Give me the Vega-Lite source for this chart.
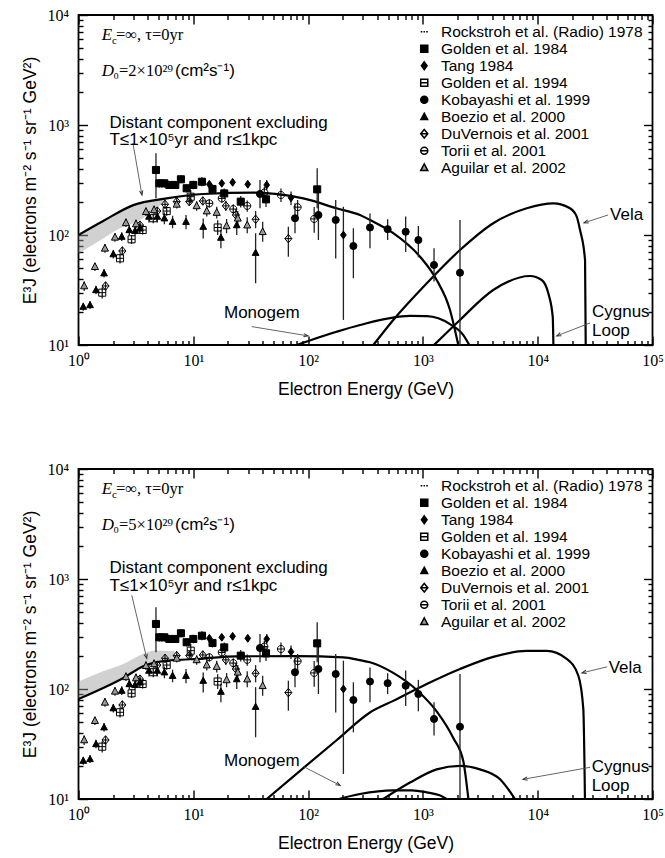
{
"$schema": "https://vega.github.io/schema/vega-lite/v6.json",
"padding": {"left": 20.5, "top": 6, "right": 4, "bottom": 4},
"spacing": 61,
"config": {
 "view": {"stroke": "black", "strokeWidth": 1.8},
 "axis": {"domain": false, "grid": false, "labelFont": "Liberation Serif", "labelFontSize": 16, "labelColor": "black", "labelOverlap": false, "labelFlush": false, "titleFont": "Liberation Sans", "titleFontSize": 17.5, "titleFontWeight": "normal", "titleColor": "black"}
},
"resolve": {"scale": {"shape": "independent", "fill": "independent"}},
"datasets": {
 "obs": [
  {"s":"Golden et al. 1984","E":4.73,"F":390,"lo":216,"hi":553},
  {"s":"Golden et al. 1984","E":5.06,"F":295,"lo":270,"hi":322},
  {"s":"Golden et al. 1984","E":5.6,"F":295,"lo":270,"hi":322},
  {"s":"Golden et al. 1984","E":6.18,"F":285,"lo":262,"hi":310},
  {"s":"Golden et al. 1984","E":6.97,"F":285,"lo":262,"hi":310},
  {"s":"Golden et al. 1984","E":7.8,"F":321,"lo":295,"hi":350},
  {"s":"Golden et al. 1984","E":8.75,"F":266,"lo":244,"hi":290},
  {"s":"Golden et al. 1984","E":10.0,"F":285,"lo":260,"hi":312},
  {"s":"Golden et al. 1984","E":11.9,"F":305,"lo":278,"hi":335},
  {"s":"Golden et al. 1984","E":14.7,"F":262,"lo":238,"hi":288},
  {"s":"Golden et al. 1984","E":18.6,"F":239,"lo":215,"hi":265},
  {"s":"Golden et al. 1984","E":25.9,"F":201,"lo":178,"hi":226},
  {"s":"Golden et al. 1984","E":43.0,"F":211,"lo":180,"hi":245},
  {"s":"Golden et al. 1984","E":120,"F":260,"lo":175,"hi":404},
  {"s":"Tang 1984","E":13.8,"F":289,"lo":270,"hi":310},
  {"s":"Tang 1984","E":17.7,"F":295,"lo":275,"hi":316},
  {"s":"Tang 1984","E":22.0,"F":301,"lo":280,"hi":324},
  {"s":"Tang 1984","E":29.8,"F":289,"lo":268,"hi":312},
  {"s":"Tang 1984","E":43.6,"F":285,"lo":256,"hi":316},
  {"s":"Tang 1984","E":71,"F":218,"lo":187,"hi":248},
  {"s":"Tang 1984","E":203,"F":100,"lo":16.9,"hi":181},
  {"s":"Golden et al. 1994","E":1.61,"F":29.9,"lo":26.5,"hi":33.5},
  {"s":"Golden et al. 1994","E":2.30,"F":61.4,"lo":55,"hi":68},
  {"s":"Golden et al. 1994","E":2.9,"F":91.4,"lo":83,"hi":100},
  {"s":"Golden et al. 1994","E":3.62,"F":111,"lo":101,"hi":122},
  {"s":"Golden et al. 1994","E":4.48,"F":142,"lo":128,"hi":156},
  {"s":"Golden et al. 1994","E":5.86,"F":165,"lo":150,"hi":181},
  {"s":"Golden et al. 1994","E":9.5,"F":223,"lo":194,"hi":256},
  {"s":"Golden et al. 1994","E":16.3,"F":117,"lo":100,"hi":136},
  {"s":"Kobayashi et al. 1999","E":38.1,"F":236,"lo":175,"hi":316},
  {"s":"Kobayashi et al. 1999","E":76.9,"F":142,"lo":104,"hi":194},
  {"s":"Kobayashi et al. 1999","E":123,"F":152,"lo":90,"hi":275},
  {"s":"Kobayashi et al. 1999","E":174,"F":137,"lo":61,"hi":208},
  {"s":"Kobayashi et al. 1999","E":248,"F":79.4,"lo":40.4,"hi":115},
  {"s":"Kobayashi et al. 1999","E":346,"F":117,"lo":75.7,"hi":157},
  {"s":"Kobayashi et al. 1999","E":493,"F":113,"lo":90,"hi":139},
  {"s":"Kobayashi et al. 1999","E":708,"F":107,"lo":70,"hi":147},
  {"s":"Kobayashi et al. 1999","E":913,"F":90,"lo":62.7,"hi":121},
  {"s":"Kobayashi et al. 1999","E":1250,"F":53.4,"lo":37.7,"hi":75.7},
  {"s":"Kobayashi et al. 1999","E":2104,"F":45.4,"lo":8,"hi":137},
  {"s":"Boezio et al. 2000","E":1.10,"F":22.3,"lo":20.5,"hi":24.2},
  {"s":"Boezio et al. 2000","E":1.26,"F":23.1,"lo":21.2,"hi":25},
  {"s":"Boezio et al. 2000","E":1.42,"F":31.6,"lo":29,"hi":34.5},
  {"s":"Boezio et al. 2000","E":1.67,"F":44.9,"lo":41,"hi":49},
  {"s":"Boezio et al. 2000","E":2.01,"F":67,"lo":61,"hi":73},
  {"s":"Boezio et al. 2000","E":2.38,"F":96.6,"lo":88,"hi":106},
  {"s":"Boezio et al. 2000","E":2.77,"F":111,"lo":100,"hi":122},
  {"s":"Boezio et al. 2000","E":3.11,"F":109,"lo":98,"hi":120},
  {"s":"Boezio et al. 2000","E":3.43,"F":115,"lo":103,"hi":128},
  {"s":"Boezio et al. 2000","E":4.11,"F":147,"lo":130,"hi":165},
  {"s":"Boezio et al. 2000","E":4.86,"F":147,"lo":130,"hi":165},
  {"s":"Boezio et al. 2000","E":5.6,"F":142,"lo":125,"hi":160},
  {"s":"Boezio et al. 2000","E":6.6,"F":132,"lo":115,"hi":150},
  {"s":"Boezio et al. 2000","E":8.64,"F":132,"lo":113,"hi":152},
  {"s":"Boezio et al. 2000","E":12.2,"F":119,"lo":93,"hi":141},
  {"s":"Boezio et al. 2000","E":17.4,"F":94.6,"lo":75.7,"hi":111},
  {"s":"Boezio et al. 2000","E":23.9,"F":123,"lo":100,"hi":147},
  {"s":"Boezio et al. 2000","E":34.9,"F":69,"lo":36.4,"hi":104},
  {"s":"DuVernois et al. 2001","E":1.72,"F":34.4,"lo":31.5,"hi":37.5},
  {"s":"DuVernois et al. 2001","E":2.41,"F":71.6,"lo":66,"hi":78},
  {"s":"DuVernois et al. 2001","E":3.43,"F":123,"lo":113,"hi":134},
  {"s":"DuVernois et al. 2001","E":4.86,"F":165,"lo":150,"hi":180},
  {"s":"DuVernois et al. 2001","E":5.67,"F":190,"lo":174,"hi":207},
  {"s":"DuVernois et al. 2001","E":7.17,"F":201,"lo":184,"hi":219},
  {"s":"DuVernois et al. 2001","E":9.23,"F":201,"lo":184,"hi":219},
  {"s":"DuVernois et al. 2001","E":12.1,"F":204,"lo":186,"hi":223},
  {"s":"DuVernois et al. 2001","E":19.2,"F":184,"lo":165,"hi":205},
  {"s":"DuVernois et al. 2001","E":23.5,"F":152,"lo":134,"hi":172},
  {"s":"DuVernois et al. 2001","E":34.9,"F":139,"lo":115,"hi":165},
  {"s":"DuVernois et al. 2001","E":67.3,"F":92.7,"lo":63.5,"hi":119},
  {"s":"Torii et al. 2001","E":13.8,"F":194,"lo":178,"hi":211},
  {"s":"Torii et al. 2001","E":17.7,"F":215,"lo":196,"hi":236},
  {"s":"Torii et al. 2001","E":22.3,"F":172,"lo":155,"hi":190},
  {"s":"Torii et al. 2001","E":29.5,"F":184,"lo":163,"hi":206},
  {"s":"Torii et al. 2001","E":41.6,"F":243,"lo":214,"hi":275},
  {"s":"Torii et al. 2001","E":58,"F":231,"lo":200,"hi":265},
  {"s":"Torii et al. 2001","E":81,"F":179,"lo":147,"hi":208},
  {"s":"Torii et al. 2001","E":113,"F":140,"lo":105,"hi":180},
  {"s":"Aguilar et al. 2002","E":1.12,"F":34.4,"lo":31,"hi":38},
  {"s":"Aguilar et al. 2002","E":1.39,"F":51.5,"lo":47,"hi":56},
  {"s":"Aguilar et al. 2002","E":1.70,"F":75.7,"lo":69,"hi":83},
  {"s":"Aguilar et al. 2002","E":2.08,"F":95.3,"lo":87,"hi":104},
  {"s":"Aguilar et al. 2002","E":2.59,"F":129,"lo":118,"hi":141},
  {"s":"Aguilar et al. 2002","E":3.17,"F":126,"lo":115,"hi":138},
  {"s":"Aguilar et al. 2002","E":3.87,"F":163,"lo":149,"hi":178},
  {"s":"Aguilar et al. 2002","E":4.55,"F":169,"lo":154,"hi":185},
  {"s":"Aguilar et al. 2002","E":7.17,"F":190,"lo":174,"hi":207},
  {"s":"Aguilar et al. 2002","E":10.7,"F":184,"lo":166,"hi":203},
  {"s":"Aguilar et al. 2002","E":13.1,"F":165,"lo":147,"hi":185},
  {"s":"Aguilar et al. 2002","E":16.0,"F":160,"lo":141,"hi":181},
  {"s":"Aguilar et al. 2002","E":19.5,"F":121,"lo":104,"hi":140},
  {"s":"Aguilar et al. 2002","E":24.4,"F":142,"lo":122,"hi":165},
  {"s":"Aguilar et al. 2002","E":29.5,"F":123,"lo":104,"hi":145},
  {"s":"Aguilar et al. 2002","E":40.2,"F":107,"lo":87,"hi":132}
 ],
 "curves": [
  {"p":"top","c":"distant","E":1,"F":100},{"p":"top","c":"distant","E":1.64,"F":134},{"p":"top","c":"distant","E":3.0,"F":187},{"p":"top","c":"distant","E":5.86,"F":215},{"p":"top","c":"distant","E":12.2,"F":236},{"p":"top","c":"distant","E":33.2,"F":243},{"p":"top","c":"distant","E":90.7,"F":215},{"p":"top","c":"distant","E":177,"F":175},{"p":"top","c":"distant","E":283,"F":152},{"p":"top","c":"distant","E":346,"F":137},{"p":"top","c":"distant","E":552,"F":104},{"p":"top","c":"distant","E":944,"F":63.5},{"p":"top","c":"distant","E":1318,"F":39},{"p":"top","c":"distant","E":1722,"F":20.8},{"p":"top","c":"distant","E":2033,"F":10},
  {"p":"top","c":"vela","E":370,"F":10},{"p":"top","c":"vela","E":552,"F":16.9},{"p":"top","c":"vela","E":1080,"F":36.4},{"p":"top","c":"vela","E":2104,"F":73},{"p":"top","c":"vela","E":4100,"F":128},{"p":"top","c":"vela","E":8020,"F":175},{"p":"top","c":"vela","E":13680,"F":194},{"p":"top","c":"vela","E":19100,"F":175},{"p":"top","c":"vela","E":21860,"F":147},{"p":"top","c":"vela","E":23380,"F":111},{"p":"top","c":"vela","E":25850,"F":59},{"p":"top","c":"vela","E":26200,"F":10},
  {"p":"top","c":"cygnus","E":1250,"F":10},{"p":"top","c":"cygnus","E":2104,"F":16.9},{"p":"top","c":"cygnus","E":4100,"F":31.6},{"p":"top","c":"cygnus","E":8570,"F":42.4},{"p":"top","c":"cygnus","E":10840,"F":39},{"p":"top","c":"cygnus","E":12370,"F":29.5},{"p":"top","c":"cygnus","E":13520,"F":18},{"p":"top","c":"cygnus","E":13700,"F":10},
  {"p":"top","c":"monogem","E":79.5,"F":10},{"p":"top","c":"monogem","E":177,"F":13.2},{"p":"top","c":"monogem","E":283,"F":15.2},{"p":"top","c":"monogem","E":772,"F":18.4},{"p":"top","c":"monogem","E":1080,"F":18.3},{"p":"top","c":"monogem","E":1722,"F":15.5},{"p":"top","c":"monogem","E":2250,"F":12.3},{"p":"top","c":"monogem","E":2537,"F":10},
  {"p":"bottom","c":"distant","E":1,"F":81},{"p":"bottom","c":"distant","E":1.64,"F":102},{"p":"bottom","c":"distant","E":2.46,"F":126},{"p":"bottom","c":"distant","E":3.67,"F":161},{"p":"bottom","c":"distant","E":5.48,"F":179},{"p":"bottom","c":"distant","E":12.2,"F":189},{"p":"bottom","c":"distant","E":23.9,"F":198},{"p":"bottom","c":"distant","E":80,"F":199},{"p":"bottom","c":"distant","E":203,"F":194},{"p":"bottom","c":"distant","E":283,"F":183},{"p":"bottom","c":"distant","E":346,"F":175},{"p":"bottom","c":"distant","E":552,"F":140},{"p":"bottom","c":"distant","E":913,"F":95},{"p":"bottom","c":"distant","E":1318,"F":62.7},{"p":"bottom","c":"distant","E":1840,"F":35.9},{"p":"bottom","c":"distant","E":2250,"F":22},{"p":"bottom","c":"distant","E":2490,"F":10},
  {"p":"bottom","c":"vela","E":43.6,"F":10},{"p":"bottom","c":"vela","E":90.8,"F":19.1},{"p":"bottom","c":"vela","E":177,"F":34.2},{"p":"bottom","c":"vela","E":346,"F":61.2},{"p":"bottom","c":"vela","E":552,"F":78},{"p":"bottom","c":"vela","E":1080,"F":111},{"p":"bottom","c":"vela","E":2104,"F":152},{"p":"bottom","c":"vela","E":4100,"F":196},{"p":"bottom","c":"vela","E":8020,"F":222},{"p":"bottom","c":"vela","E":11970,"F":222},{"p":"bottom","c":"vela","E":17900,"F":188},{"p":"bottom","c":"vela","E":22600,"F":132},{"p":"bottom","c":"vela","E":24970,"F":65.6},{"p":"bottom","c":"vela","E":25800,"F":10},
  {"p":"bottom","c":"cygnus","E":452,"F":10},{"p":"bottom","c":"cygnus","E":772,"F":14.1},{"p":"bottom","c":"cygnus","E":1318,"F":18.6},{"p":"bottom","c":"cygnus","E":2104,"F":20},{"p":"bottom","c":"cygnus","E":3140,"F":18.6},{"p":"bottom","c":"cygnus","E":4700,"F":15.1},{"p":"bottom","c":"cygnus","E":6340,"F":10},
  {"p":"bottom","c":"monogem","E":186,"F":10},{"p":"bottom","c":"monogem","E":283,"F":11.1},{"p":"bottom","c":"monogem","E":552,"F":12.0},{"p":"bottom","c":"monogem","E":800,"F":12.0},{"p":"bottom","c":"monogem","E":1080,"F":11.5},{"p":"bottom","c":"monogem","E":1400,"F":10.8},{"p":"bottom","c":"monogem","E":1610,"F":10}
 ],
 "shade": [
  {"p":"top","E":1,"lo":68,"hi":100},{"p":"top","E":1.64,"lo":93,"hi":134},{"p":"top","E":2.3,"lo":115,"hi":160},{"p":"top","E":3.21,"lo":132,"hi":192},{"p":"top","E":4.8,"lo":175,"hi":208},{"p":"top","E":5.86,"lo":212,"hi":215},
  {"p":"bottom","E":1,"lo":81,"hi":117},{"p":"bottom","E":1.64,"lo":102,"hi":145},{"p":"bottom","E":2.46,"lo":126,"hi":169},{"p":"bottom","E":3.67,"lo":161,"hi":209},{"p":"bottom","E":4.6,"lo":172,"hi":224},{"p":"bottom","E":6.9,"lo":183,"hi":220}
 ],
 "arrows": [
  {"p":"top","E":2.98,"F":686,"E2":3.57,"F2":231,"ang":170},
  {"p":"top","E":32.3,"F":14.7,"E2":99.8,"F2":12.1,"ang":99},
  {"p":"top","E":40950,"F":152,"E2":25300,"F2":129,"ang":252},
  {"p":"top","E":28550,"F":15.85,"E2":14650,"F2":12.1,"ang":248},
  {"p":"bottom","E":2.91,"F":711,"E2":3.93,"F2":190,"ang":166},
  {"p":"bottom","E":90.3,"F":19.8,"E2":190,"F2":13.3,"ang":117},
  {"p":"bottom","E":40200,"F":159,"E2":24300,"F2":140,"ang":256},
  {"p":"bottom","E":28550,"F":19.4,"E2":7450,"F2":15.1,"ang":260}
 ],
 "notes": [
  {"p":"top","E":1.86,"F":948,"txt":"Distant component excluding"},
  {"p":"top","E":1.86,"F":658,"txt":"T≤1×10⁵yr and r≤1kpc"},
  {"p":"top","E":18.5,"F":17.5,"txt":"Monogem"},
  {"p":"top","E":42700,"F":137,"txt":"Vela"},
  {"p":"top","E":29700,"F":17.8,"txt":"Cygnus"},
  {"p":"top","E":29700,"F":12.0,"txt":"Loop"},
  {"p":"top","E":6.93,"F":2790,"txt":"(cm²s⁻¹)"},
  {"p":"bottom","E":1.86,"F":1135,"txt":"Distant component excluding"},
  {"p":"bottom","E":1.86,"F":785,"txt":"T≤1×10⁵yr and r≤1kpc"},
  {"p":"bottom","E":18.5,"F":19.8,"txt":"Monogem"},
  {"p":"bottom","E":41500,"F":140,"txt":"Vela"},
  {"p":"bottom","E":29500,"F":17.6,"txt":"Cygnus"},
  {"p":"bottom","E":29500,"F":11.9,"txt":"Loop"},
  {"p":"bottom","E":6.93,"F":2790,"txt":"(cm²s⁻¹)"}
 ],
 "hdrI": [
  {"p":"top","E":1.592,"F":5929,"txt":"E"},{"p":"top","E":1.592,"F":2790,"txt":"D"},
  {"p":"bottom","E":1.592,"F":5929,"txt":"E"},{"p":"bottom","E":1.592,"F":2790,"txt":"D"}
 ],
 "hdrU": [
  {"p":"top","E":2.12,"F":5929,"txt":"=∞, τ=0yr"},{"p":"top","E":2.01,"F":2790,"txt":"₀=2×10²⁹"},
  {"p":"bottom","E":2.12,"F":5929,"txt":"=∞, τ=0yr"},{"p":"bottom","E":2.01,"F":2790,"txt":"₀=5×10²⁹"}
 ],
 "hdrSub": [
  {"p":"top","E":1.96,"F":5929,"txt":"c"},{"p":"bottom","E":1.96,"F":5929,"txt":"c"}
 ]
},
"vconcat": [
 {
  "width": 574, "height": 330,
  "resolve": {"axis": {"x": "independent", "y": "independent"}},
  "layer": [
   {
    "layer": [
     {"data": {"name": "shade"}, "transform": [{"filter": "datum.p == 'top'"}],
      "mark": {"type": "area", "fill": "#9a9a9a", "opacity": 0.45, "interpolate": "monotone"},
      "encoding": {
       "x": {"field": "E", "type": "quantitative", "scale": {"type": "log", "domain": [1, 100000], "nice": false},
        "axis": {"orient": "bottom", "title": "Electron Energy (GeV)", "values": [1,2,3,4,5,6,7,8,9,10,20,30,40,50,60,70,80,90,100,200,300,400,500,600,700,800,900,1000,2000,3000,4000,5000,6000,7000,8000,9000,10000,20000,30000,40000,50000,60000,70000,80000,90000,100000],
         "labelExpr": "abs(log(datum.value)/LN10 - round(log(datum.value)/LN10)) < 0.01 ? '10' + ['⁰','¹','²','³','⁴','⁵'][round(log(datum.value)/LN10)] : ''",
         "tickColor": "black", "tickWidth": 1.4,
         "tickSize": {"condition": {"test": "abs(log(datum.value)/LN10 - round(log(datum.value)/LN10)) < 0.01", "value": -9}, "value": -4.5},
         "labelPadding": 16, "titlePadding": 8}},
       "y": {"field": "lo", "type": "quantitative", "scale": {"type": "log", "domain": [10, 10000], "nice": false},
        "axis": {"orient": "left", "title": "E³J (electrons m⁻² s⁻¹ sr⁻¹ GeV²)", "values": [10,20,30,40,50,60,70,80,90,100,200,300,400,500,600,700,800,900,1000,2000,3000,4000,5000,6000,7000,8000,9000,10000],
         "labelExpr": "abs(log(datum.value)/LN10 - round(log(datum.value)/LN10)) < 0.01 ? '10' + ['⁰','¹','²','³','⁴','⁵'][round(log(datum.value)/LN10)] : ''",
         "tickColor": "black", "tickWidth": 1.4,
         "tickSize": {"condition": {"test": "abs(log(datum.value)/LN10 - round(log(datum.value)/LN10)) < 0.01", "value": -9}, "value": -4.5},
         "labelPadding": 19, "titlePadding": 7.5}},
       "y2": {"field": "hi"}
      }},
     {"data": {"name": "curves"}, "transform": [{"filter": "datum.p == 'top'"}],
      "mark": {"type": "line", "stroke": "black", "strokeWidth": 2.2, "interpolate": "monotone", "clip": true},
      "encoding": {"x": {"field": "E", "type": "quantitative"}, "y": {"field": "F", "type": "quantitative"}, "detail": {"field": "c"}}},
     {"data": {"name": "obs"},
      "mark": {"type": "rule", "stroke": "#222", "strokeWidth": 1.3, "clip": true},
      "encoding": {"x": {"field": "E", "type": "quantitative"}, "y": {"field": "lo", "type": "quantitative"}, "y2": {"field": "hi"}}},
     {"data": {"name": "obs"},
      "mark": {"type": "point", "stroke": "black", "strokeWidth": 1, "opacity": 1, "size": 50},
      "encoding": {
       "x": {"field": "E", "type": "quantitative"}, "y": {"field": "F", "type": "quantitative"},
       "shape": {"field": "s", "type": "nominal",
        "scale": {"domain": ["Rockstroh et al. (Radio) 1978","Golden et al. 1984","Tang 1984","Golden et al. 1994","Kobayashi et al. 1999","Boezio et al. 2000","DuVernois et al. 2001","Torii et al. 2001","Aguilar et al. 2002"],
         "range": ["M-1,0H-0.55M-0.2,0H0.2M0.55,0H1","M-1,-1H1V1H-1Z","M0,-1.1L0.8,0L0,1.1L-0.8,0Z","M-1,-1H1V1H-1ZM-1,0H1","circle","M0,-1L0.95,0.75H-0.95Z","M0,-1.2L1,0L0,1.2L-1,0ZM-1,0H1","M-1,0A1,1,0,1,0,1,0A1,1,0,1,0,-1,0ZM-1,0H1","M0,-1.1L1,0.8H-1Z"]},
        "legend": {"title": null, "orient": "top-right", "offset": 9, "padding": 0, "labelFont": "Liberation Sans", "labelFontSize": 15.5, "labelColor": "black", "symbolSize": 50, "rowPadding": -0.4, "labelOffset": 9, "labelLimit": 300, "encode": {"symbols": {"update": {"stroke": {"value": "black"}, "strokeWidth": {"value": 1}}}}}},
       "fill": {"field": "s", "type": "nominal",
        "scale": {"domain": ["Rockstroh et al. (Radio) 1978","Golden et al. 1984","Tang 1984","Golden et al. 1994","Kobayashi et al. 1999","Boezio et al. 2000","DuVernois et al. 2001","Torii et al. 2001","Aguilar et al. 2002"],
         "range": ["transparent","black","black","transparent","black","black","transparent","transparent","#9a9a9a"]},
        "legend": {"title": null, "orient": "top-right", "offset": 9, "padding": 0, "labelFont": "Liberation Sans", "labelFontSize": 15.5, "labelColor": "black", "symbolSize": 50, "rowPadding": -0.4, "labelOffset": 9, "labelLimit": 300, "encode": {"symbols": {"update": {"stroke": {"value": "black"}, "strokeWidth": {"value": 1}}}}}}
      }},
     {"data": {"name": "arrows"}, "transform": [{"filter": "datum.p == 'top'"}],
      "mark": {"type": "rule", "stroke": "#555", "strokeWidth": 0.9},
      "encoding": {"x": {"field": "E", "type": "quantitative"}, "y": {"field": "F", "type": "quantitative"}, "x2": {"field": "E2"}, "y2": {"field": "F2"}}},
     {"data": {"name": "arrows"}, "transform": [{"filter": "datum.p == 'top'"}],
      "mark": {"type": "point", "shape": "M-0.6,1.6L0,0L0.6,1.6", "filled": false, "stroke": "#333", "strokeWidth": 1, "size": 30, "opacity": 1},
      "encoding": {"x": {"field": "E2", "type": "quantitative"}, "y": {"field": "F2", "type": "quantitative"}, "angle": {"field": "ang", "type": "quantitative", "scale": null}}},
     {"data": {"name": "notes"}, "transform": [{"filter": "datum.p == 'top'"}],
      "mark": {"type": "text", "font": "Liberation Sans", "fontSize": 17, "align": "left", "baseline": "alphabetic", "color": "black"},
      "encoding": {"x": {"field": "E", "type": "quantitative"}, "y": {"field": "F", "type": "quantitative"}, "text": {"field": "txt"}}},
     {"data": {"name": "hdrI"}, "transform": [{"filter": "datum.p == 'top'"}],
      "mark": {"type": "text", "font": "Liberation Serif", "fontStyle": "italic", "fontSize": 17, "align": "left", "baseline": "alphabetic", "color": "black"},
      "encoding": {"x": {"field": "E", "type": "quantitative"}, "y": {"field": "F", "type": "quantitative"}, "text": {"field": "txt"}}},
     {"data": {"name": "hdrU"}, "transform": [{"filter": "datum.p == 'top'"}],
      "mark": {"type": "text", "font": "Liberation Serif", "fontSize": 16.5, "align": "left", "baseline": "alphabetic", "color": "black"},
      "encoding": {"x": {"field": "E", "type": "quantitative"}, "y": {"field": "F", "type": "quantitative"}, "text": {"field": "txt"}}},
     {"data": {"name": "hdrSub"}, "transform": [{"filter": "datum.p == 'top'"}],
      "mark": {"type": "text", "font": "Liberation Serif", "fontSize": 11, "align": "left", "baseline": "alphabetic", "dy": 4, "color": "black"},
      "encoding": {"x": {"field": "E", "type": "quantitative"}, "y": {"field": "F", "type": "quantitative"}, "text": {"field": "txt"}}}
    ]
   },
   {"data": {"name": "curves"}, "transform": [{"filter": "datum.p == 'top'"}],
    "mark": {"type": "point", "opacity": 0},
    "encoding": {
     "x": {"field": "E", "type": "quantitative", "scale": {"type": "log", "domain": [1, 100000], "nice": false},
      "axis": {"orient": "top", "title": null, "labels": false, "values": [1,2,3,4,5,6,7,8,9,10,20,30,40,50,60,70,80,90,100,200,300,400,500,600,700,800,900,1000,2000,3000,4000,5000,6000,7000,8000,9000,10000,20000,30000,40000,50000,60000,70000,80000,90000,100000],
       "tickColor": "black", "tickWidth": 1.4,
       "tickSize": {"condition": {"test": "abs(log(datum.value)/LN10 - round(log(datum.value)/LN10)) < 0.01", "value": -9}, "value": -4.5}}},
     "y": {"field": "F", "type": "quantitative", "scale": {"type": "log", "domain": [10, 10000], "nice": false},
      "axis": {"orient": "right", "title": null, "labels": false, "values": [10,20,30,40,50,60,70,80,90,100,200,300,400,500,600,700,800,900,1000,2000,3000,4000,5000,6000,7000,8000,9000,10000],
       "tickColor": "black", "tickWidth": 1.4,
       "tickSize": {"condition": {"test": "abs(log(datum.value)/LN10 - round(log(datum.value)/LN10)) < 0.01", "value": -9}, "value": -4.5}}}
    }}
  ]
 },
 {
  "width": 574, "height": 330,
  "resolve": {"axis": {"x": "independent", "y": "independent"}},
  "layer": [
   {
    "layer": [
     {"data": {"name": "shade"}, "transform": [{"filter": "datum.p == 'bottom'"}],
      "mark": {"type": "area", "fill": "#9a9a9a", "opacity": 0.45, "interpolate": "monotone"},
      "encoding": {
       "x": {"field": "E", "type": "quantitative", "scale": {"type": "log", "domain": [1, 100000], "nice": false},
        "axis": {"orient": "bottom", "title": "Electron Energy (GeV)", "values": [1,2,3,4,5,6,7,8,9,10,20,30,40,50,60,70,80,90,100,200,300,400,500,600,700,800,900,1000,2000,3000,4000,5000,6000,7000,8000,9000,10000,20000,30000,40000,50000,60000,70000,80000,90000,100000],
         "labelExpr": "abs(log(datum.value)/LN10 - round(log(datum.value)/LN10)) < 0.01 ? '10' + ['⁰','¹','²','³','⁴','⁵'][round(log(datum.value)/LN10)] : ''",
         "tickColor": "black", "tickWidth": 1.4,
         "tickSize": {"condition": {"test": "abs(log(datum.value)/LN10 - round(log(datum.value)/LN10)) < 0.01", "value": -9}, "value": -4.5},
         "labelPadding": 16, "titlePadding": 8}},
       "y": {"field": "lo", "type": "quantitative", "scale": {"type": "log", "domain": [10, 10000], "nice": false},
        "axis": {"orient": "left", "title": "E³J (electrons m⁻² s⁻¹ sr⁻¹ GeV²)", "values": [10,20,30,40,50,60,70,80,90,100,200,300,400,500,600,700,800,900,1000,2000,3000,4000,5000,6000,7000,8000,9000,10000],
         "labelExpr": "abs(log(datum.value)/LN10 - round(log(datum.value)/LN10)) < 0.01 ? '10' + ['⁰','¹','²','³','⁴','⁵'][round(log(datum.value)/LN10)] : ''",
         "tickColor": "black", "tickWidth": 1.4,
         "tickSize": {"condition": {"test": "abs(log(datum.value)/LN10 - round(log(datum.value)/LN10)) < 0.01", "value": -9}, "value": -4.5},
         "labelPadding": 19, "titlePadding": 7.5}},
       "y2": {"field": "hi"}
      }},
     {"data": {"name": "curves"}, "transform": [{"filter": "datum.p == 'bottom'"}],
      "mark": {"type": "line", "stroke": "black", "strokeWidth": 2.2, "interpolate": "monotone", "clip": true},
      "encoding": {"x": {"field": "E", "type": "quantitative"}, "y": {"field": "F", "type": "quantitative"}, "detail": {"field": "c"}}},
     {"data": {"name": "obs"},
      "mark": {"type": "rule", "stroke": "#222", "strokeWidth": 1.3, "clip": true},
      "encoding": {"x": {"field": "E", "type": "quantitative"}, "y": {"field": "lo", "type": "quantitative"}, "y2": {"field": "hi"}}},
     {"data": {"name": "obs"},
      "mark": {"type": "point", "stroke": "black", "strokeWidth": 1, "opacity": 1, "size": 50},
      "encoding": {
       "x": {"field": "E", "type": "quantitative"}, "y": {"field": "F", "type": "quantitative"},
       "shape": {"field": "s", "type": "nominal",
        "scale": {"domain": ["Rockstroh et al. (Radio) 1978","Golden et al. 1984","Tang 1984","Golden et al. 1994","Kobayashi et al. 1999","Boezio et al. 2000","DuVernois et al. 2001","Torii et al. 2001","Aguilar et al. 2002"],
         "range": ["M-1,0H-0.55M-0.2,0H0.2M0.55,0H1","M-1,-1H1V1H-1Z","M0,-1.1L0.8,0L0,1.1L-0.8,0Z","M-1,-1H1V1H-1ZM-1,0H1","circle","M0,-1L0.95,0.75H-0.95Z","M0,-1.2L1,0L0,1.2L-1,0ZM-1,0H1","M-1,0A1,1,0,1,0,1,0A1,1,0,1,0,-1,0ZM-1,0H1","M0,-1.1L1,0.8H-1Z"]},
        "legend": {"title": null, "orient": "top-right", "offset": 9, "padding": 0, "labelFont": "Liberation Sans", "labelFontSize": 15.5, "labelColor": "black", "symbolSize": 50, "rowPadding": -0.4, "labelOffset": 9, "labelLimit": 300, "encode": {"symbols": {"update": {"stroke": {"value": "black"}, "strokeWidth": {"value": 1}}}}}},
       "fill": {"field": "s", "type": "nominal",
        "scale": {"domain": ["Rockstroh et al. (Radio) 1978","Golden et al. 1984","Tang 1984","Golden et al. 1994","Kobayashi et al. 1999","Boezio et al. 2000","DuVernois et al. 2001","Torii et al. 2001","Aguilar et al. 2002"],
         "range": ["transparent","black","black","transparent","black","black","transparent","transparent","#9a9a9a"]},
        "legend": {"title": null, "orient": "top-right", "offset": 9, "padding": 0, "labelFont": "Liberation Sans", "labelFontSize": 15.5, "labelColor": "black", "symbolSize": 50, "rowPadding": -0.4, "labelOffset": 9, "labelLimit": 300, "encode": {"symbols": {"update": {"stroke": {"value": "black"}, "strokeWidth": {"value": 1}}}}}}
      }},
     {"data": {"name": "arrows"}, "transform": [{"filter": "datum.p == 'bottom'"}],
      "mark": {"type": "rule", "stroke": "#555", "strokeWidth": 0.9},
      "encoding": {"x": {"field": "E", "type": "quantitative"}, "y": {"field": "F", "type": "quantitative"}, "x2": {"field": "E2"}, "y2": {"field": "F2"}}},
     {"data": {"name": "arrows"}, "transform": [{"filter": "datum.p == 'bottom'"}],
      "mark": {"type": "point", "shape": "M-0.6,1.6L0,0L0.6,1.6", "filled": false, "stroke": "#333", "strokeWidth": 1, "size": 30, "opacity": 1},
      "encoding": {"x": {"field": "E2", "type": "quantitative"}, "y": {"field": "F2", "type": "quantitative"}, "angle": {"field": "ang", "type": "quantitative", "scale": null}}},
     {"data": {"name": "notes"}, "transform": [{"filter": "datum.p == 'bottom'"}],
      "mark": {"type": "text", "font": "Liberation Sans", "fontSize": 17, "align": "left", "baseline": "alphabetic", "color": "black"},
      "encoding": {"x": {"field": "E", "type": "quantitative"}, "y": {"field": "F", "type": "quantitative"}, "text": {"field": "txt"}}},
     {"data": {"name": "hdrI"}, "transform": [{"filter": "datum.p == 'bottom'"}],
      "mark": {"type": "text", "font": "Liberation Serif", "fontStyle": "italic", "fontSize": 17, "align": "left", "baseline": "alphabetic", "color": "black"},
      "encoding": {"x": {"field": "E", "type": "quantitative"}, "y": {"field": "F", "type": "quantitative"}, "text": {"field": "txt"}}},
     {"data": {"name": "hdrU"}, "transform": [{"filter": "datum.p == 'bottom'"}],
      "mark": {"type": "text", "font": "Liberation Serif", "fontSize": 16.5, "align": "left", "baseline": "alphabetic", "color": "black"},
      "encoding": {"x": {"field": "E", "type": "quantitative"}, "y": {"field": "F", "type": "quantitative"}, "text": {"field": "txt"}}},
     {"data": {"name": "hdrSub"}, "transform": [{"filter": "datum.p == 'bottom'"}],
      "mark": {"type": "text", "font": "Liberation Serif", "fontSize": 11, "align": "left", "baseline": "alphabetic", "dy": 4, "color": "black"},
      "encoding": {"x": {"field": "E", "type": "quantitative"}, "y": {"field": "F", "type": "quantitative"}, "text": {"field": "txt"}}}
    ]
   },
   {"data": {"name": "curves"}, "transform": [{"filter": "datum.p == 'bottom'"}],
    "mark": {"type": "point", "opacity": 0},
    "encoding": {
     "x": {"field": "E", "type": "quantitative", "scale": {"type": "log", "domain": [1, 100000], "nice": false},
      "axis": {"orient": "top", "title": null, "labels": false, "values": [1,2,3,4,5,6,7,8,9,10,20,30,40,50,60,70,80,90,100,200,300,400,500,600,700,800,900,1000,2000,3000,4000,5000,6000,7000,8000,9000,10000,20000,30000,40000,50000,60000,70000,80000,90000,100000],
       "tickColor": "black", "tickWidth": 1.4,
       "tickSize": {"condition": {"test": "abs(log(datum.value)/LN10 - round(log(datum.value)/LN10)) < 0.01", "value": -9}, "value": -4.5}}},
     "y": {"field": "F", "type": "quantitative", "scale": {"type": "log", "domain": [10, 10000], "nice": false},
      "axis": {"orient": "right", "title": null, "labels": false, "values": [10,20,30,40,50,60,70,80,90,100,200,300,400,500,600,700,800,900,1000,2000,3000,4000,5000,6000,7000,8000,9000,10000],
       "tickColor": "black", "tickWidth": 1.4,
       "tickSize": {"condition": {"test": "abs(log(datum.value)/LN10 - round(log(datum.value)/LN10)) < 0.01", "value": -9}, "value": -4.5}}}
    }}
  ]
 }
]
}
